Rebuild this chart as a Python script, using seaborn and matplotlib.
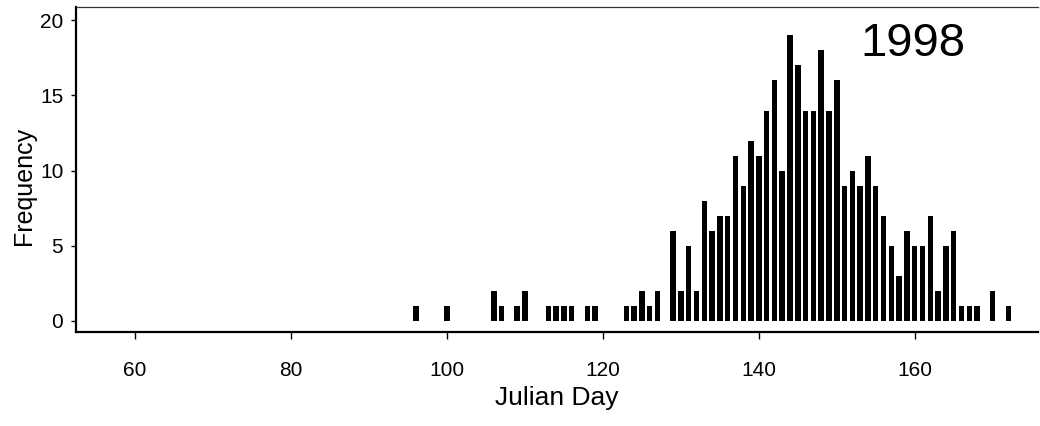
import matplotlib
matplotlib.use("Agg")
import matplotlib.pyplot as plt
import seaborn as sns
import pandas as pd

# ---- data ----
days = [96, 100, 106, 107, 109, 110, 113, 114, 115, 116, 118, 119, 123, 124, 125, 126, 127,
        129, 130, 131, 132, 133, 134, 135, 136, 137, 138, 139, 140, 141, 142, 143, 144, 145,
        146, 147, 148, 149, 150, 151, 152, 153, 154, 155, 156, 157, 158, 159, 160, 161, 162,
        163, 164, 165, 166, 167, 168, 170, 172]
counts = [1, 1, 2, 1, 1, 2, 1, 1, 1, 1, 1, 1, 1, 1, 2, 1, 2,
          6, 2, 5, 2, 8, 6, 7, 7, 11, 9, 12, 11, 14, 16, 10, 19, 17,
          14, 14, 18, 14, 16, 9, 10, 9, 11, 9, 7, 5, 3, 6, 5, 5, 7,
          2, 5, 6, 1, 1, 1, 2, 1]
x_ticks = [60, 80, 100, 120, 140, 160]
y_ticks = [0, 5, 10, 15, 20]
year_label = "1998"
x_label = "Julian Day"
y_label = "Frequency"

df = pd.DataFrame({"day": days, "count": counts})

sns.set_style("white")
plt.rcParams["font.family"] = ["Liberation Sans", "DejaVu Sans"]

fig = plt.figure(figsize=(10.4, 4.26), dpi=100)
ax = fig.add_axes([0.073, 0.221, 0.925, 0.763])

sns.barplot(data=df, x="day", y="count", native_scale=True, width=0.7,
            color="black", saturation=1, linewidth=0, ax=ax)

ax.set_xlim(52.4, 175.8)
ax.set_ylim(-0.73, 20.9)
ax.set_xticks(x_ticks)
ax.set_yticks(y_ticks)
ax.set_xticklabels([str(t) for t in x_ticks])
ax.set_yticklabels([str(t) for t in y_ticks])

ax.tick_params(axis="x", direction="out", length=5, width=1, pad=16,
               labelsize=15, colors="black", bottom=True)
ax.tick_params(axis="y", direction="out", length=3.6, width=1, pad=5.5,
               labelsize=15, colors="black", left=True)

for s in ["left", "bottom"]:
    ax.spines[s].set_linewidth(1.6)
    ax.spines[s].set_color("black")
ax.spines["top"].set_linewidth(0.9)
ax.spines["top"].set_color("#333333")
ax.spines["right"].set_visible(False)

ax.set_xlabel(x_label, fontsize=19, color="black")
ax.set_ylabel(y_label, fontsize=18, color="black")
ax.xaxis.set_label_coords(0.5, -0.168)
ax.yaxis.set_label_coords(-0.041, 0.45)

ax.text(0.870, 0.885, year_label, transform=ax.transAxes, ha="center", va="center",
        fontsize=34, color="black")

fig.savefig("out.png", dpi=100, facecolor="white")
